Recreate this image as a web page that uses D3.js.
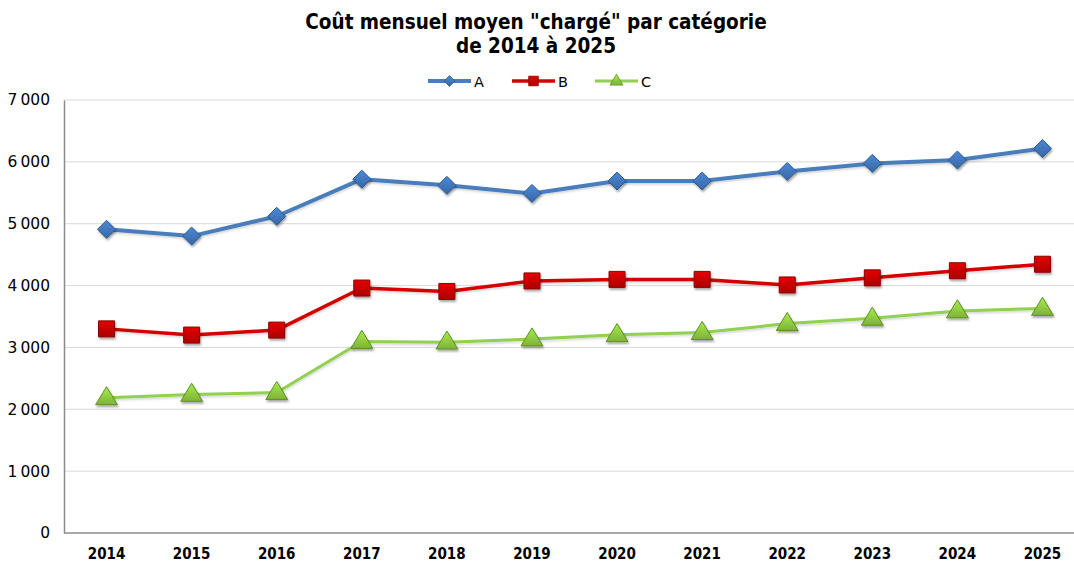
<!DOCTYPE html>
<html><head><meta charset="utf-8">
<script src="https://cdn.jsdelivr.net/npm/d3@7"></script>
<style>body{margin:0;background:#fff}svg{display:block}</style>
</head><body>
<svg id="c" width="1074" height="563"></svg>
<script>
const years = ["2014","2015","2016","2017","2018","2019","2020","2021","2022","2023","2024","2025"];
const seriesA = [4910,4800,5120,5720,5620,5490,5690,5690,5845,5975,6030,6215];
const seriesB = [3300,3200,3280,3960,3905,4075,4100,4100,4010,4125,4240,4345];
const seriesC = [2185,2240,2270,3095,3085,3135,3205,3240,3385,3470,3590,3630];
const yTicks = [0,1000,2000,3000,4000,5000,6000,7000];
const seriesNames = ["A","B","C"];

const series = [
  {name:seriesNames[0], values:seriesA, line:"#4a7ebb", fill:"#3f73b5", stroke:"#2c5a92", marker:"diamond", width:4},
  {name:seriesNames[1], values:seriesB, line:"#d40000", fill:"#c00000", stroke:"#8a0000", marker:"square", width:3.5},
  {name:seriesNames[2], values:seriesC, line:"#92d050", fill:"#8cc63f", stroke:"#5e8f22", marker:"triangle", width:3}
];

const svg = d3.select("#c");
const defs = svg.append("defs");
const f = defs.append("filter").attr("id","sh").attr("x","-50%").attr("y","-50%").attr("width","200%").attr("height","200%");
f.append("feDropShadow").attr("dx",1).attr("dy",2).attr("stdDeviation",1.2).attr("flood-color","#000").attr("flood-opacity",0.35);
const f2 = defs.append("filter").attr("id","shl").attr("x","-10%").attr("y","-50%").attr("width","120%").attr("height","200%");
f2.append("feDropShadow").attr("dx",0.5).attr("dy",1.5).attr("stdDeviation",1).attr("flood-color","#000").attr("flood-opacity",0.18);
series.forEach((s,i)=>{
  const g = defs.append("linearGradient").attr("id","g"+i).attr("x1",0).attr("y1",0).attr("x2",0).attr("y2",1);
  g.append("stop").attr("offset","0%").attr("stop-color",d3.color(s.fill).brighter(0.5));
  g.append("stop").attr("offset","100%").attr("stop-color",d3.color(s.fill).darker(0.3));
});

const pLeft = 64, pRight = 1085, pTop = 100, pBottom = 533;
const x = d3.scaleBand().domain(years).range([pLeft, pRight]);
const y = d3.scaleLinear().domain([0,7000]).range([pBottom, pTop]);
const fmt = v => d3.format(",")(v).replace(/,/g, "\u2009");

// gridlines
svg.append("g").selectAll("line").data(yTicks.filter(d=>d>0)).join("line")
  .attr("x1",pLeft).attr("x2",1074).attr("y1",d=>y(d)).attr("y2",d=>y(d))
  .attr("stroke","#d9d9d9").attr("stroke-width",1);

// y axis
const ya = svg.append("g").attr("transform",`translate(${pLeft},0)`)
  .call(d3.axisLeft(y).tickValues(yTicks).tickFormat(fmt).tickSize(0).tickPadding(14));
ya.select(".domain").attr("stroke","#8c8c8c").attr("stroke-width",1.5);
ya.selectAll("text").attr("font-family","DejaVu Sans, Verdana, sans-serif").attr("font-size",15.5).attr("fill","#000");

// x axis
const xa = svg.append("g").attr("transform",`translate(0,${pBottom})`)
  .call(d3.axisBottom(x).tickSize(0).tickPadding(13));
xa.select(".domain").remove();
svg.append("line").attr("x1",pLeft).attr("x2",1074).attr("y1",pBottom).attr("y2",pBottom).attr("stroke","#8c8c8c").attr("stroke-width",1.5);
xa.selectAll("text").attr("font-family","DejaVu Sans Condensed, DejaVu Sans, sans-serif").attr("font-weight","bold").attr("font-size",15).attr("fill","#000").attr("dy","0.85em");

const cx = d => x(d) + x.bandwidth()/2;

function markerPath(type, size){
  if(type==="diamond") return `M0,${-size}L${size},0L0,${size}L${-size},0Z`;
  if(type==="square") return `M${-size},${-size}H${size}V${size}H${-size}Z`;
  const h = size*1.9;
  return `M0,${-h*0.62}L${size*1.15},${h*0.38}L${-size*1.15},${h*0.38}Z`;
}
const msize = {diamond:9, square:8, triangle:9.5};

series.forEach((s,i)=>{
  const line = d3.line().x((d,j)=>cx(years[j])).y(d=>y(d));
  svg.append("path").datum(s.values).attr("d",line).attr("fill","none")
    .attr("stroke",s.line).attr("stroke-width",s.width).attr("stroke-linejoin","round").attr("filter","url(#shl)");
  svg.append("g").selectAll("path").data(s.values).join("path")
    .attr("transform",(d,j)=>`translate(${cx(years[j])},${y(d)})`)
    .attr("d",markerPath(s.marker, msize[s.marker]))
    .attr("fill",`url(#g${i})`).attr("stroke",s.stroke).attr("stroke-width",1).attr("filter","url(#sh)");
});

// title
const t = svg.append("text").attr("text-anchor","middle").attr("font-family","DejaVu Sans Condensed, DejaVu Sans, sans-serif")
  .attr("font-weight","bold").attr("font-size",20.5).attr("fill","#000");
t.append("tspan").attr("x",536).attr("y",29).text('Coût mensuel moyen "chargé" par catégorie');
t.append("tspan").attr("x",536).attr("y",53).text("de 2014 à 2025");

// legend
const legX = [428, 512, 595];
series.forEach((s,i)=>{
  const g = svg.append("g").attr("transform",`translate(${legX[i]},81)`);
  g.append("line").attr("x1",0).attr("x2",43).attr("stroke",s.line).attr("stroke-width",s.width);
  g.append("path").attr("transform","translate(21.5,0)").attr("d",markerPath(s.marker, msize[s.marker]*0.6))
    .attr("fill",`url(#g${i})`).attr("stroke",s.stroke).attr("stroke-width",0.8);
  g.append("text").attr("x",46).attr("y",5.5).attr("font-family","DejaVu Sans, Verdana, sans-serif")
    .attr("font-size",14.5).attr("fill","#000").text(s.name);
});
</script>
</body></html>
